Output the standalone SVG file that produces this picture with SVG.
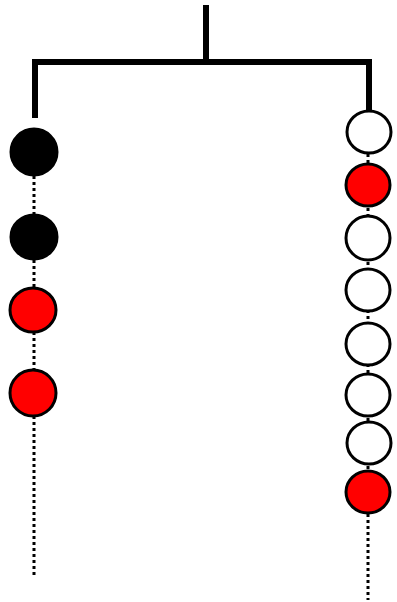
<svg xmlns="http://www.w3.org/2000/svg" width="397" height="602" viewBox="0 0 397 602">
  <style>
    .bar { stroke: #000; stroke-width: 6; fill: none; }
    .dot { stroke: #000; stroke-width: 3; stroke-dasharray: 3 3; fill: none; }
    .bead { stroke: #000; stroke-width: 3; }
    .black { fill: #000; }
    .red { fill: #f00; }
    .white { fill: #fff; }
  </style>
  <g id="connectors">
    <path class="bar" d="M206 5 V62 M32 62 H372 M35 59 V118 M369 59 V112"/>
    <path class="dot" d="M34 176 V578"/>
    <path class="dot" d="M368 154 V600"/>
  </g>
  <g id="left-1"><ellipse class="bead black" cx="34" cy="152" rx="23" ry="23"/></g>
  <g id="left-2"><ellipse class="bead black" cx="34" cy="237" rx="23" ry="22"/></g>
  <g id="left-3"><ellipse class="bead red" cx="33" cy="310" rx="23" ry="22"/></g>
  <g id="left-4"><ellipse class="bead red" cx="33" cy="393" rx="23" ry="23"/></g>
  <g id="right-1"><ellipse class="bead white" cx="369" cy="132" rx="22" ry="21"/></g>
  <g id="right-2"><ellipse class="bead red" cx="368" cy="185" rx="22" ry="21"/></g>
  <g id="right-3"><ellipse class="bead white" cx="368" cy="238" rx="22" ry="22"/></g>
  <g id="right-4"><ellipse class="bead white" cx="368" cy="290" rx="22" ry="21"/></g>
  <g id="right-5"><ellipse class="bead white" cx="368" cy="344" rx="22" ry="21"/></g>
  <g id="right-6"><ellipse class="bead white" cx="368" cy="395" rx="22" ry="21"/></g>
  <g id="right-7"><ellipse class="bead white" cx="369" cy="443" rx="22" ry="21"/></g>
  <g id="right-8"><ellipse class="bead red" cx="368" cy="492" rx="22" ry="21"/></g>
</svg>
